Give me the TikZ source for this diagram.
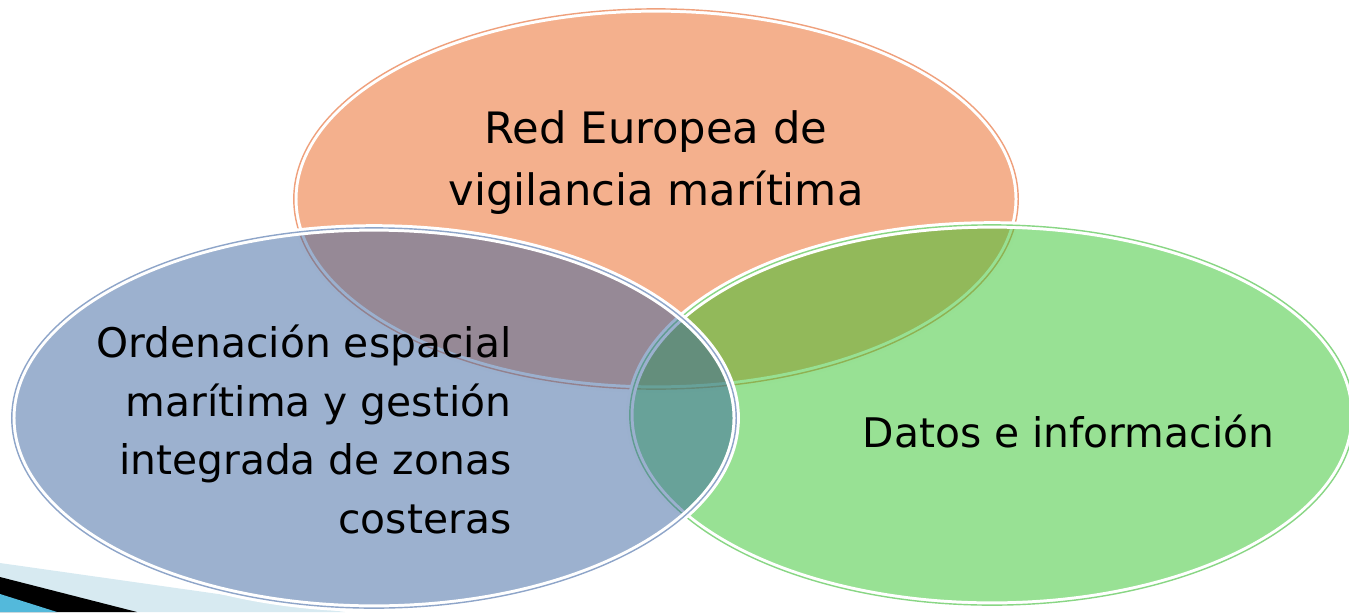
\documentclass[tikz,border=0pt]{standalone}
\usepackage{fontspec}
\setmainfont{DejaVu Sans}
\usetikzlibrary{shapes.geometric}
\definecolor{redfill}{HTML}{E9611B}
\definecolor{redline}{HTML}{EFA07C}
\definecolor{ordfill}{HTML}{39639F}
\definecolor{ordline}{HTML}{8EA5C9}
\definecolor{datfill}{HTML}{31C329}
\definecolor{datline}{HTML}{88D684}
\definecolor{bandlight}{HTML}{D7EAF1}
\definecolor{bandblue}{HTML}{53B9DB}

\begin{document}
\begin{tikzpicture}[x=0.01cm, y=-0.01cm,
		venn/.style={ellipse, minimum width=7.24cm, minimum height=3.8cm, inner sep=0pt,
			fill opacity=0.5, draw=white, line width=0.85pt, double distance=0.4pt},
		label/.style={text=black, inner sep=0pt}]
			\path[use as bounding box] (0,0) rectangle (1349,612);
			\clip (0,0) rectangle (1349,612);
			% Corner bands
			\fill[bandlight] (0,563) -- (345,612) -- (0,612) -- cycle;
			\fill[black] (0,577) -- (137,612) -- (0,612) -- cycle;
			\fill[bandblue] (0,594) -- (57,612) -- (0,612) -- cycle;
			% Circles
			\node[venn, fill=redfill, double=redline] (red) at (656,199) {};
			\node[venn, fill=datfill, double=datline] (dat) at (992,415) {};
			\node[venn, fill=ordfill, double=ordline] (ord) at (374,418) {};
			% Labels (base = last line)
			\node[label, align=center, anchor=base, font=\fontsize{12.3}{17.4}\selectfont]
				(redtext) at (656,205) {Red Europea de\\vigilancia marítima};
			\node[label, align=right, anchor=base east, font=\fontsize{11.6}{16.6}\selectfont]
				(ordtext) at (512,533) {Ordenación espacial\\marítima y gestión\\integrada de zonas\\costeras};
			\node[label, anchor=base west, font=\fontsize{11.6}{16.6}\selectfont]
				(dattext) at (862,447) {Datos e información};
		\end{tikzpicture}
\end{document}
